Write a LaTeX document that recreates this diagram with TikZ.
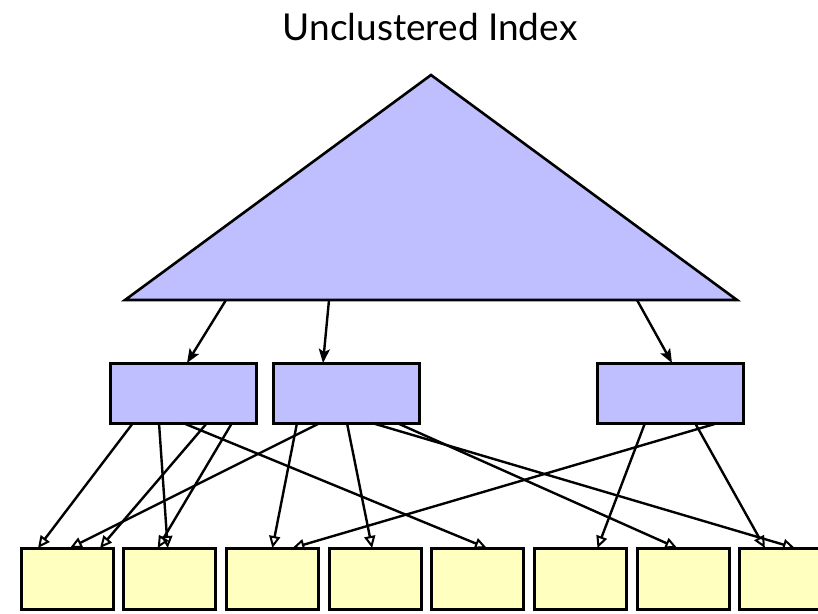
\documentclass[tikz,border=0pt]{standalone}
\usepackage{fontspec}
\setmainfont{Lato}
\usetikzlibrary{arrows.meta}
\definecolor{indexblue}{RGB}{191,191,255}
\definecolor{pageyellow}{RGB}{255,255,192}
\tikzset{
  innerbox/.style={draw=black, line width=3pt, fill=indexblue, inner sep=0pt, outer sep=0pt,
    minimum width=146pt, minimum height=60pt, anchor=north west},
  pagebox/.style={draw=black, line width=3pt, fill=pageyellow, inner sep=0pt, outer sep=0pt,
    minimum width=92pt, minimum height=61pt, anchor=north west},
  treelink/.style={line width=2.4pt, -{Stealth[length=14pt,width=11pt,inset=3pt]}},
  datalink/.style={line width=2.4pt, -{Triangle[open,length=12pt,width=11pt,line width=2pt]}},
}
\begin{document}
\begin{tikzpicture}[x=1pt,y=-1pt]
\useasboundingbox (0,0) rectangle (818,613);

% title
\node[font=\fontsize{37}{42}\selectfont] (title) at (430,27) {Unclustered Index};

% index tree
\coordinate (apex) at (431,75);
\coordinate (baseL) at (125,300);
\coordinate (baseR) at (737,300);
\draw[line width=2.6pt, fill=indexblue, line join=miter] (apex) -- (baseL) -- (baseR) -- cycle;
\coordinate (t1) at (226,300);
\coordinate (t2) at (329,300);
\coordinate (t3) at (637,300);

% leaf level of the index
\node[innerbox] (m1) at (110,363) {};
\node[innerbox] (m2) at (273,363) {};
\node[innerbox] (m3) at (597,363) {};

% data pages
\foreach \i/\x in {1/21, 2/123.7, 3/226.4, 4/329.1, 5/431.8, 6/534.5, 7/637.2, 8/739.9}
  \node[pagebox] (p\i) at (\x,548) {};

% tree to leaves
\draw[treelink] (t1) -- ([xshift=77pt]m1.north west);
\draw[treelink] (t2) -- ([xshift=50pt]m2.north west);
\draw[treelink] (t3) -- ([xshift=75pt]m3.north west);

% leaves to data pages
\draw[datalink] ([xshift=23pt]m1.south west) -- ([xshift=17pt]p1.north west);
\draw[datalink] ([xshift=49pt]m1.south west) -- ([xshift=44pt]p2.north west);
\draw[datalink] ([xshift=73pt]m1.south west) -- ([xshift=55pt]p5.north west);
\draw[datalink] ([xshift=97pt]m1.south west) -- ([xshift=79pt]p1.north west);
\draw[datalink] ([xshift=122pt]m1.south west) -- ([xshift=34pt]p2.north west);

\draw[datalink] ([xshift=24pt]m2.south west) -- ([xshift=46pt]p3.north west);
\draw[datalink] ([xshift=47pt]m2.south west) -- ([xshift=49pt]p1.north west);
\draw[datalink] ([xshift=74pt]m2.south west) -- ([xshift=43pt]p4.north west);
\draw[datalink] ([xshift=99pt]m2.south west) -- ([xshift=55pt]p8.north west);
\draw[datalink] ([xshift=124pt]m2.south west) -- ([xshift=40pt]p7.north west);

\draw[datalink] ([xshift=48pt]m3.south west) -- ([xshift=63pt]p6.north west);
\draw[datalink] ([xshift=98pt]m3.south west) -- ([xshift=25pt]p8.north west);
\draw[datalink] ([xshift=121pt]m3.south west) -- ([xshift=66pt]p3.north west);
\end{tikzpicture}
\end{document}
